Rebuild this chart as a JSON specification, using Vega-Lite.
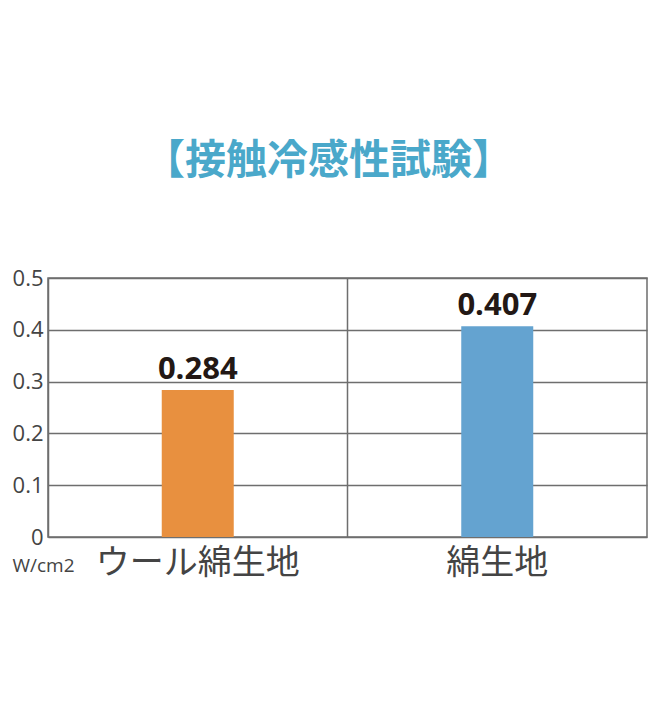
{
  "$schema": "https://vega.github.io/schema/vega-lite/v6.json",
  "autosize": "none",
  "width": 599,
  "height": 259,
  "padding": {"left": 48, "top": 278, "right": 11, "bottom": 181},
  "background": "white",
  "title": {
    "text": "【接触冷感性試験】",
    "font": "Noto Sans CJK JP",
    "fontSize": 41,
    "fontWeight": "bold",
    "color": "#4AA8CA",
    "anchor": "middle",
    "offset": 84,
    "dx": -19
  },
  "config": {
    "view": {"stroke": "#6e6e6e", "strokeWidth": 1.5},
    "axis": {"domain": false, "ticks": false}
  },
  "data": {
    "values": [
      {"category": "ウール綿生地", "value": 0.284, "label": "0.284"},
      {"category": "綿生地", "value": 0.407, "label": "0.407"}
    ]
  },
  "encoding": {
    "x": {
      "field": "category",
      "type": "nominal",
      "sort": null,
      "scale": {"paddingInner": 0, "paddingOuter": 0},
      "axis": {
        "title": null,
        "labelAngle": 0,
        "labelLimit": 0,
        "labelFont": "Noto Sans CJK JP",
        "labelFontSize": 34,
        "labelFontWeight": "normal",
        "labelColor": "#444444",
        "labelPadding": 9,
        "grid": true,
        "bandPosition": 0,
        "gridColor": "#6e6e6e",
        "gridWidth": 1.5,
        "gridOpacity": 1
      }
    },
    "y": {
      "field": "value",
      "type": "quantitative",
      "scale": {"domain": [0, 0.5], "nice": false},
      "axis": {
        "values": [0, 0.1, 0.2, 0.3, 0.4, 0.5],
        "labelExpr": "datum.value == 0 ? '0' : format(datum.value, '.1f')",
        "labelFont": "Open Sans",
        "labelFontSize": 22,
        "labelColor": "#444444",
        "labelPadding": 5,
        "grid": true,
        "gridColor": "#6e6e6e",
        "gridWidth": 1.5,
        "gridOpacity": 1,
        "title": "W/cm2",
        "titleFont": "Open Sans",
        "titleFontSize": 19,
        "titleFontWeight": "normal",
        "titleColor": "#444444",
        "titleAngle": 0,
        "titleAlign": "left",
        "titleBaseline": "alphabetic",
        "titleX": -36,
        "titleY": 293
      }
    }
  },
  "layer": [
    {
      "mark": {"type": "bar", "width": 72},
      "encoding": {
        "color": {
          "field": "category",
          "type": "nominal",
          "scale": {"domain": ["ウール綿生地", "綿生地"], "range": ["#E8903F", "#64A3D0"]},
          "legend": null
        }
      }
    },
    {
      "mark": {
        "type": "text",
        "baseline": "alphabetic",
        "dy": -11,
        "font": "Open Sans",
        "fontSize": 31,
        "fontWeight": "bold",
        "color": "#231815"
      },
      "encoding": {"text": {"field": "label"}}
    }
  ]
}
